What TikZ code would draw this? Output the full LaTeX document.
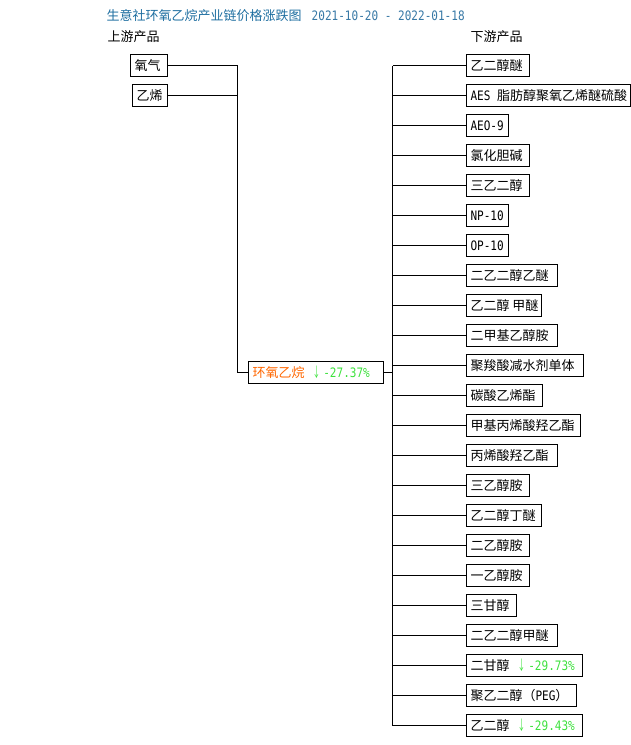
\documentclass[tikz,border=0pt]{standalone}
\usepackage{fontspec}
\usepackage{graphicx}
\setmainfont{Noto Sans CJK SC}
\setmonofont[FakeStretch=0.85]{DejaVu Sans Mono}
\definecolor{titleblue}{RGB}{30,110,160}
\definecolor{dateblue}{RGB}{55,120,165}
\definecolor{hot}{RGB}{255,102,0}
\definecolor{fall}{RGB}{60,225,60}
\tikzset{
  pbox/.style={draw=black, line width=1pt, minimum height=22pt, inner xsep=4.5pt, inner ysep=0pt,
    font=\fontsize{13}{13}\selectfont, anchor=west},
  ln/.style={line width=1pt, black},
  lbl/.style={inner sep=0pt, anchor=west, font=\fontsize{13}{13}\selectfont},
}
\newcommand\pct[1]{\hspace{8pt}{\color{fall}\scalebox{0.6}[1.05]{↓}\hspace{3pt}\ttfamily\fontsize{13}{13}\selectfont #1}}
\newcommand\tx[1]{{\ttfamily\fontsize{13}{13}\selectfont #1}}
\newcommand\down[4]{%
  \node[pbox] (#1) at (465,#2) {\makebox[\dimexpr#3pt-9pt\relax][l]{#4}};
  \draw[ln] (#1.west) -- (#1.west -| rv);}
\begin{document}
\begin{tikzpicture}[x=1pt,y=-1pt]
\useasboundingbox (-0.5,-0.5) rectangle (629.5,744.5);
% title and headers
\node[lbl] (title) at (106,15.5) {{\color{titleblue}生意社环氧乙烷产业链价格涨跌图}\hspace{10pt}{\color{dateblue}\ttfamily 2021-10-20 - 2022-01-18}};
\node[lbl] (up) at (107,36.5) {上游产品};
\node[lbl] (dn) at (470,36.5) {下游产品};
% vertical rails
\coordinate (lv) at (237,65);
\coordinate (rv) at (392,65);
% upstream
\node[pbox] (o2) at (129,65) {\makebox[28pt][l]{氧气}};
\node[pbox] (eth) at (131,95) {\makebox[26pt][l]{乙烯}};
% center
\node[pbox] (c) at (247,372) {\makebox[126pt][l]{{\color{hot}环氧乙烷}\pct{-27.37\%}}};
\draw[ln] (o2.east) -- (o2.east -| lv) -- (c.west -| lv) -- (c.west);
\draw[ln] (eth.east) -- (eth.east -| lv);
\draw[ln] (c.east) -- (c.east -| rv);
% downstream
\down{d1}{65}{63}{乙二醇醚}
\down{d2}{95}{164}{\tx{AES }脂肪醇聚氧乙烯醚硫酸}
\down{d3}{125}{42}{\tx{AEO-9}}
\down{d4}{155}{63}{氯化胆碱}
\down{d5}{185}{63}{三乙二醇}
\down{d6}{215}{42}{\tx{NP-10}}
\down{d7}{245}{42}{\tx{OP-10}}
\down{d8}{275}{91}{二乙二醇乙醚}
\down{d9}{305}{75}{乙二醇 甲醚}
\down{d10}{335}{91}{二甲基乙醇胺}
\down{d11}{365}{117}{聚羧酸减水剂单体}
\down{d12}{395}{76}{碳酸乙烯酯}
\down{d13}{425}{114}{甲基丙烯酸羟乙酯}
\down{d14}{455}{91}{丙烯酸羟乙酯}
\down{d15}{485}{63}{三乙醇胺}
\down{d16}{515}{75}{乙二醇丁醚}
\down{d17}{545}{63}{二乙醇胺}
\down{d18}{575}{63}{一乙醇胺}
\down{d19}{605}{50}{三甘醇}
\down{d20}{635}{91}{二乙二醇甲醚}
\down{d21}{665}{116}{二甘醇\pct{-29.73\%}}
\down{d22}{695}{110}{聚乙二醇（\tx{PEG}）}
\down{d23}{725}{116}{乙二醇\pct{-29.43\%}}
\draw[ln] (d1.west -| rv) -- (d23.west -| rv);
\end{tikzpicture}
\end{document}
